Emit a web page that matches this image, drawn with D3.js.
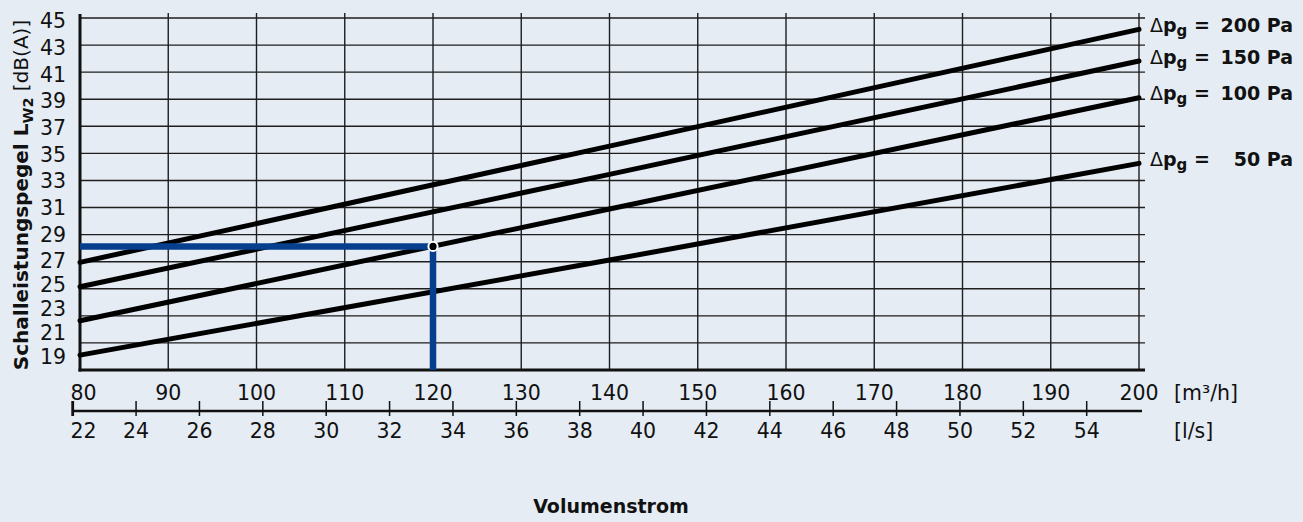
<!DOCTYPE html>
<html>
<head>
<meta charset="utf-8">
<script src="https://cdn.jsdelivr.net/npm/d3@7"></script>
<style>
  html, body { margin: 0; padding: 0; background: #e5ecf4; }
  svg { display: block; }
  text { font-family: "DejaVu Sans", "Liberation Sans", Arial, sans-serif; fill: #111; }
</style>
</head>
<body>
<svg id="chart" width="1303" height="522"></svg>
<script>
// ---------- data ----------
const flowM3h = [80, 140, 200];                 // read positions (m³/h)
const pressureLabels = ["200", "150", "100", " 50"]; // Δp_g in Pa
const lw200 = [26.95, 35.54, 44.16];
const lw150 = [25.15, 33.45, 41.82];
const lw100 = [22.64, 30.89, 39.11];
const lw50  = [20.1, 27.12, 34.26];
const yTicks   = [19, 21, 23, 25, 27, 29, 31, 33, 35, 37, 39, 41, 43, 45];
const m3hTicks = [80, 90, 100, 110, 120, 130, 140, 150, 160, 170, 180, 190, 200];
const lsTicks  = [22, 24, 26, 28, 30, 32, 34, 36, 38, 40, 42, 44, 46, 48, 50, 52, 54];
const opFlow = 120;      // operating point m³/h
const opLevel = 28.13;   // dB(A)

// ---------- scales ----------
const x = d3.scaleLinear().domain([80, 200]).range([80, 1139]);
const y = d3.scaleLinear().domain([19, 45]).range([370, 18]);
const xLs = d3.scaleLinear().domain([22, 54]).range([72.7, 1086.7]);
const yLab = d3.scaleLinear().domain([45, 27, 19]).range([20.8, 261, 357]);

const svg = d3.select("#chart");
svg.append("rect").attr("width", 1303).attr("height", 522).attr("fill", "#e5ecf4");

const grid = svg.append("g").attr("stroke", "#1e1e1e").attr("stroke-width", 1.4);
grid.selectAll("line.h").data(yTicks.filter(v => v !== 19)).join("line")
  .attr("x1", x(80)).attr("x2", 1145)
  .attr("y1", d => y(d)).attr("y2", d => y(d));
grid.selectAll("line.v").data(m3hTicks.filter(v => v !== 80)).join("line")
  .attr("class", "v")
  .attr("x1", d => x(d)).attr("x2", d => x(d))
  .attr("y1", 13).attr("y2", y(19));

// axes lines
svg.append("line").attr("x1", x(80)).attr("x2", x(80)).attr("y1", 14).attr("y2", y(19) + 1.4)
  .attr("stroke", "#111").attr("stroke-width", 3);
svg.append("line").attr("x1", x(80) - 1.5).attr("x2", 1145).attr("y1", y(19)).attr("y2", y(19))
  .attr("stroke", "#111").attr("stroke-width", 2.8);

// y tick labels
svg.append("g").selectAll("text").data(yTicks).join("text")
  .attr("x", 66).attr("y", d => yLab(d)).attr("dy", "0.36em")
  .attr("text-anchor", "end").attr("font-size", 20.5)
  .text(d => d);

// m³/h labels
svg.append("g").selectAll("text").data(m3hTicks).join("text")
  .attr("x", d => d === 80 ? 70.5 : x(d))
  .attr("y", 400)
  .attr("text-anchor", d => d === 80 ? "start" : "middle")
  .attr("font-size", 20.5)
  .text(d => d);
svg.append("text").attr("x", 1174).attr("y", 400).attr("font-size", 20.5).text("[m³/h]");

// l/s axis
const lsY = 411;
svg.append("line").attr("x1", xLs(22)).attr("x2", 1142).attr("y1", lsY).attr("y2", lsY)
  .attr("stroke", "#111").attr("stroke-width", 2.4);
svg.append("g").selectAll("line").data(lsTicks).join("line")
  .attr("x1", d => xLs(d)).attr("x2", d => xLs(d))
  .attr("y1", lsY - 10).attr("y2", lsY + 5)
  .attr("stroke", "#111").attr("stroke-width", d => d === 22 ? 2.8 : 1.5);
svg.append("g").selectAll("text").data(lsTicks).join("text")
  .attr("x", d => d === 22 ? 70.5 : xLs(d))
  .attr("y", 438)
  .attr("text-anchor", d => d === 22 ? "start" : "middle")
  .attr("font-size", 20.5)
  .text(d => d);
svg.append("text").attr("x", 1174).attr("y", 438).attr("font-size", 20.5).text("[l/s]");

// curves
const series = [lw200, lw150, lw100, lw50];
const line = d3.line().x((d, i) => x(flowM3h[i])).y(d => y(d));
svg.append("g").selectAll("path").data(series).join("path")
  .attr("d", d => line(d))
  .attr("fill", "none").attr("stroke", "#000").attr("stroke-width", 5)
  .attr("stroke-linecap", "round");

// operating point (blue guide lines)
const blue = "#073f8f";
svg.append("line").attr("x1", x(80)).attr("x2", x(opFlow)).attr("y1", y(opLevel)).attr("y2", y(opLevel))
  .attr("stroke", blue).attr("stroke-width", 6.5);
svg.append("line").attr("x1", x(opFlow)).attr("x2", x(opFlow)).attr("y1", y(opLevel)).attr("y2", y(19))
  .attr("stroke", blue).attr("stroke-width", 6.5);
svg.append("circle").attr("cx", x(opFlow)).attr("cy", y(opLevel)).attr("r", 4.6)
  .attr("fill", "#000").attr("stroke", "#fff").attr("stroke-width", 2);

// right labels
const rl = svg.append("g");
series.forEach((s, i) => {
  const by = y(s[s.length - 1]) + 2.5;
  const t = rl.append("text").attr("x", 1150).attr("y", by).attr("font-size", 19).attr("font-weight", "bold");
  t.append("tspan").attr("font-weight", "normal").text("Δ");
  t.append("tspan").text("p");
  t.append("tspan").attr("font-size", 15).attr("dy", 4).text("g");
  t.append("tspan").attr("dy", -4).text(" =");
  rl.append("text").attr("x", 1293).attr("y", by).attr("text-anchor", "end")
    .attr("font-size", 19).attr("font-weight", "bold").text(pressureLabels[i].trim() + " Pa");
});

// y axis title
const yt = svg.append("text")
  .attr("transform", "translate(27.6,195) rotate(-90)")
  .attr("text-anchor", "middle").attr("font-size", 20);
yt.append("tspan").attr("font-weight", "bold").text("Schalleistungspegel L");
yt.append("tspan").attr("font-weight", "bold").attr("font-size", 14.5).attr("dy", 5).text("W2");
yt.append("tspan").attr("dy", -5).text(" [dB(A)]");

// x title
svg.append("text").attr("x", 611).attr("y", 513).attr("text-anchor", "middle")
  .attr("font-size", 19).attr("font-weight", "bold").text("Volumenstrom");
</script>
</body>
</html>
